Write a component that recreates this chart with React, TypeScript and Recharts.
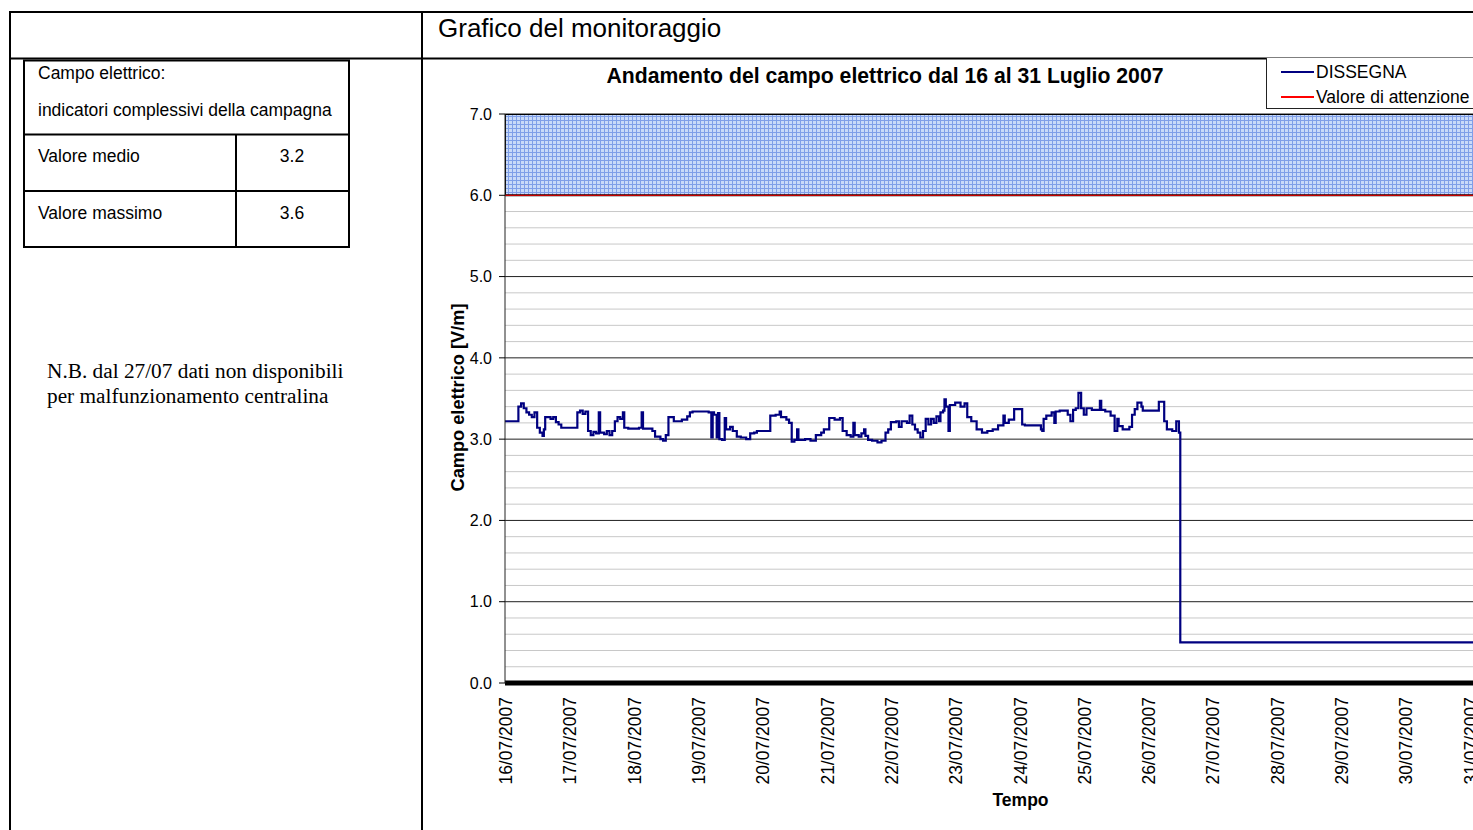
import React from "react";
import { LineChart, Line, XAxis, YAxis, CartesianGrid, ReferenceArea, Legend, Label } from "recharts";

// Hours elapsed since 16/07/2007 00:00
const hours = [
  0, 5, 6, 7, 8, 9, 10, 11, 12, 13, 14, 14.5, 15, 17, 18, 19, 20, 21,
  27, 28, 29, 30, 31, 32, 33, 34, 35, 35.5, 37, 38, 39, 40, 41, 42, 43, 44, 44.5, 46,
  50, 51, 51.5, 55, 56, 58, 59, 60, 61, 63, 66, 68, 69, 70,
  76, 77, 77.5, 78, 79, 79.5, 80, 81, 82, 82.5, 84, 85, 86.5, 88, 90, 91.5, 93, 94,
  99, 101, 102.5, 103, 105, 106, 107, 108, 109, 109.5, 112, 114, 116, 118, 119,
  121, 123, 125, 126, 127.5, 129, 130, 130.5, 132, 133, 134, 134.5, 135.5, 137, 139, 140.5, 142, 143,
  144, 146, 147, 148, 150, 151, 152, 153, 154, 155, 156, 157, 158, 159, 160, 161, 162, 162.5, 163.5, 164, 164.5, 165.5, 166,
  168, 170, 171.5, 172.5, 174, 176, 178, 180, 182, 184, 186, 186.5, 188, 190,
  193, 194, 200, 200.5, 201, 202, 204, 205, 205.5, 207, 210, 211, 212, 213, 214, 215,
  216, 217, 219, 222, 222.5, 224, 226, 227.5, 228.5, 229, 230.5, 233, 234, 235, 236, 237.5, 238,
  244, 246, 247, 249, 250.5, 251.5, 252, 384,
];

// DISSEGNA electric field [V/m]
const dissegna = [
  3.22, 3.40, 3.44, 3.38, 3.33, 3.30, 3.27, 3.33, 3.14, 3.08, 3.04, 3.12, 3.27, 3.25, 3.27, 3.21, 3.18, 3.14,
  3.33, 3.35, 3.31, 3.34, 3.10, 3.05, 3.09, 3.07, 3.33, 3.08, 3.06, 3.10, 3.05, 3.10, 3.22, 3.27, 3.25, 3.33, 3.14, 3.13,
  3.14, 3.33, 3.13, 3.10, 3.03, 3.00, 2.98, 3.05, 3.27, 3.22, 3.24, 3.28, 3.33, 3.34,
  3.33, 3.02, 3.33, 3.30, 3.02, 3.32, 3.00, 2.99, 3.26, 3.12, 3.15, 3.10, 3.03, 3.02, 3.00, 3.07, 3.08, 3.10,
  3.29, 3.30, 3.34, 3.27, 3.24, 3.20, 2.97, 2.99, 3.12, 2.99, 3.00, 2.98, 3.05, 3.08, 3.12,
  3.26, 3.24, 3.26, 3.10, 3.05, 3.03, 3.20, 3.05, 3.03, 3.07, 3.12, 3.04, 2.99, 2.98, 2.96, 2.98, 3.08, 3.12,
  3.21, 3.22, 3.15, 3.22, 3.20, 3.29, 3.18, 3.12, 3.08, 3.02, 3.10, 3.25, 3.18, 3.25, 3.20, 3.28, 3.22, 3.33, 3.35, 3.49, 3.40, 3.10, 3.42,
  3.45, 3.40, 3.44, 3.27, 3.22, 3.12, 3.08, 3.10, 3.12, 3.17, 3.29, 3.20, 3.24, 3.37,
  3.18, 3.17, 3.12, 3.10, 3.25, 3.29, 3.33, 3.20, 3.34, 3.35, 3.30, 3.22, 3.36, 3.38, 3.57, 3.38,
  3.30, 3.38, 3.36, 3.47, 3.36, 3.34, 3.29, 3.10, 3.25, 3.16, 3.12, 3.15, 3.30, 3.37, 3.45, 3.40, 3.35,
  3.46, 3.22, 3.12, 3.10, 3.22, 3.08, 0.50, 0.50,
];

// Valore di attenzione [V/m]
const attenzioneHours = [0, 384];
const attenzioneValues = [6, 6];

const xTickHours = [0, 24, 48, 72, 96, 120, 144, 168, 192, 216, 240, 264, 288, 312, 336, 360, 384];
const xTickLabels = [
  "16/07/2007", "17/07/2007", "18/07/2007", "19/07/2007", "20/07/2007", "21/07/2007",
  "22/07/2007", "23/07/2007", "24/07/2007", "25/07/2007", "26/07/2007", "27/07/2007",
  "28/07/2007", "29/07/2007", "30/07/2007", "31/07/2007", "01/08/2007",
];
const yMajorTicks = [0, 1, 2, 3, 4, 5, 6, 7];
const yMinorTicks = [
  0.2, 0.4, 0.6, 0.8, 1.2, 1.4, 1.6, 1.8, 2.2, 2.4, 2.6, 2.8, 3.2, 3.4, 3.6, 3.8,
  4.2, 4.4, 4.6, 4.8, 5.2, 5.4, 5.6, 5.8, 6.2, 6.4, 6.6, 6.8,
];

const seriesNames = ["DISSEGNA", "Valore di attenzione"];
const seriesColors = ["#000080", "#ff0000"];

const indicatorLabels = ["Valore medio", "Valore massimo"];
const indicatorValues = ["3.2", "3.6"];

const dissegnaData = hours.map((t, i) => ({ t, v: dissegna[i] }));
const attenzioneData = attenzioneHours.map((t, i) => ({ t, v: attenzioneValues[i] }));

const SANS = "'Liberation Sans', Arial, sans-serif";
const SERIF = "'Liberation Serif', 'Times New Roman', serif";

const minorCoords = (props: any) => {
  const yAxis = props && props.yAxis;
  const scale = yAxis && yAxis.scale;
  if (typeof scale === "function") return yMinorTicks.map((v) => scale(v));
  if (scale && typeof scale.map === "function") return yMinorTicks.map((v) => scale.map(v));
  const off = props.offset || { top: 114, height: 569 };
  return yMinorTicks.map((v) => off.top + off.height * (1 - v / 7));
};

const XTick = (props: any) => {
  const { x, y, payload } = props;
  const idx = xTickHours.indexOf(payload.value);
  return (
    <g transform={`translate(${x + 7},${y + 14})`}>
      <text transform="rotate(-90)" textAnchor="end" fontSize={17.5} fill="#000" fontFamily={SANS}>
        {idx >= 0 ? xTickLabels[idx] : ""}
      </text>
    </g>
  );
};

const YLabel = (props: any) => {
  const vb = props.viewBox || { x: 430, y: 114, width: 75, height: 569 };
  const cx = vb.x + 34;
  const cy = vb.y + vb.height / 2 - 1;
  return (
    <text transform={`translate(${cx},${cy}) rotate(-90)`} textAnchor="middle" fontSize={18.2} fontWeight="bold" fill="#000" fontFamily={SANS}>
      Campo elettrico [V/m]
    </text>
  );
};

const XLabel = (props: any) => {
  const vb = props.viewBox || { x: 505, y: 683, width: 1029, height: 147 };
  return (
    <text x={vb.x + vb.width / 2 + 1} y={vb.y + 123} textAnchor="middle" fontSize={17.5} fontWeight="bold" fill="#000" fontFamily={SANS}>
      Tempo
    </text>
  );
};

const LegendBox = () => (
  <div style={{ width: 240, height: 51, borderLeft: "1px solid #222", borderBottom: "1px solid #222", boxSizing: "border-box", background: "#fff" }}>
    <svg width={240} height={50} style={{ display: "block" }}>
      {seriesNames.map((name, i) => (
        <g key={name}>
          <line x1={14} x2={47} y1={14 + i * 25} y2={14 + i * 25} stroke={seriesColors[i]} strokeWidth={2} />
          <text x={49} y={20 + i * 25} fontSize={17.5} fill="#000" fontFamily={SANS}>{name}</text>
        </g>
      ))}
    </svg>
  </div>
);

export default function App() {
  return (
    <div style={{ position: "absolute", left: 0, top: 0, width: 1473, height: 830, overflow: "hidden", background: "#fff", fontFamily: SANS }}>
      <svg width={1473} height={830} style={{ position: "absolute", left: 0, top: 0 }}>
        {/* page frame */}
        <line x1={9} x2={1473} y1={12} y2={12} stroke="#000" strokeWidth={2} />
        <line x1={10} x2={10} y1={11} y2={830} stroke="#000" strokeWidth={2} />
        <line x1={9} x2={1473} y1={58.5} y2={58.5} stroke="#000" strokeWidth={2} />
        <line x1={422} x2={422} y1={11} y2={830} stroke="#000" strokeWidth={2} />
        <text x={438} y={37} fontSize={26} fill="#000" fontFamily={SANS}>Grafico del monitoraggio</text>
        {/* indicator table */}
        <rect x={24} y={60.5} width={325} height={186.5} fill="none" stroke="#000" strokeWidth={2} />
        <line x1={24} x2={349} y1={134.5} y2={134.5} stroke="#000" strokeWidth={2} />
        <line x1={24} x2={349} y1={191} y2={191} stroke="#000" strokeWidth={2} />
        <line x1={236} x2={236} y1={134.5} y2={247} stroke="#000" strokeWidth={2} />
        <text x={38} y={79} fontSize={17.5} fill="#000" fontFamily={SANS}>Campo elettrico:</text>
        <text x={38} y={115.5} fontSize={17.5} fill="#000" fontFamily={SANS}>indicatori complessivi della campagna</text>
        {indicatorLabels.map((l, i) => (
          <g key={l}>
            <text x={38} y={162 + i * 57} fontSize={17.5} fill="#000" fontFamily={SANS}>{l}</text>
            <text x={292} y={162 + i * 57} fontSize={17.5} textAnchor="middle" fill="#000" fontFamily={SANS}>{indicatorValues[i]}</text>
          </g>
        ))}
        <text x={47} y={378} fontSize={21.3} fill="#000" fontFamily={SERIF}>N.B. dal 27/07 dati non disponibili</text>
        <text x={47} y={403} fontSize={21.3} fill="#000" fontFamily={SERIF}>per malfunzionamento centralina</text>
        {/* chart title */}
        <text x={885} y={82.5} fontSize={21.2} fontWeight="bold" textAnchor="middle" fill="#000" fontFamily={SANS}>
          Andamento del campo elettrico dal 16 al 31 Luglio 2007
        </text>
      </svg>
      <div style={{ position: "absolute", left: 0, top: 0 }}>
        <LineChart width={1540} height={830} margin={{ top: 114, right: 6, bottom: 0, left: 430 }}>
          <defs>
            <pattern id="bandPat" width={4} height={4} patternUnits="userSpaceOnUse">
              <rect width={4} height={4} fill="#c9daf8" />
              <rect width={4} height={1} fill="#7f9fe8" />
              <rect width={1} height={4} fill="#7f9fe8" />
            </pattern>
          </defs>
          <CartesianGrid vertical={false} stroke="#c8c8c8" strokeWidth={1} horizontalCoordinatesGenerator={minorCoords} />
          <CartesianGrid vertical={false} stroke="#202020" strokeWidth={1} />
          <XAxis
            dataKey="t"
            type="number"
            domain={[0, 384]}
            ticks={xTickHours}
            allowDataOverflow
            height={147}
            tickLine={false}
            tickSize={0}
            tickMargin={0}
            tick={<XTick />}
            interval={0}
            axisLine={{ stroke: "#000", strokeWidth: 5 }}
          >
            <Label content={<XLabel />} />
          </XAxis>
          <YAxis
            domain={[0, 7]}
            ticks={yMajorTicks}
            type="number"
            width={75}
            tickSize={6}
            tickMargin={7}
            tickFormatter={(v: number) => v.toFixed(1)}
            tick={{ fill: "#000", fontSize: 16, fontFamily: SANS }}
            tickLine={{ stroke: "#000" }}
            axisLine={{ stroke: "#222" }}
            interval={0}
          >
            <Label content={<YLabel />} />
          </YAxis>
          <ReferenceArea y1={6} y2={7} fill="url(#bandPat)" fillOpacity={1} stroke="#000" strokeWidth={2} ifOverflow="hidden" />
          <Line data={attenzioneData} dataKey="v" name={seriesNames[1]} stroke={seriesColors[1]} strokeWidth={1} dot={false} isAnimationActive={false} />
          <Line data={dissegnaData} dataKey="v" name={seriesNames[0]} type="stepAfter" stroke={seriesColors[0]} strokeWidth={2.2} dot={false} isAnimationActive={false} />
          <Legend layout="vertical" align="center" verticalAlign="middle" content={<LegendBox />} wrapperStyle={{ left: 1266, top: 58, width: 240, height: 51 }} />
        </LineChart>
      </div>
    </div>
  );
}
